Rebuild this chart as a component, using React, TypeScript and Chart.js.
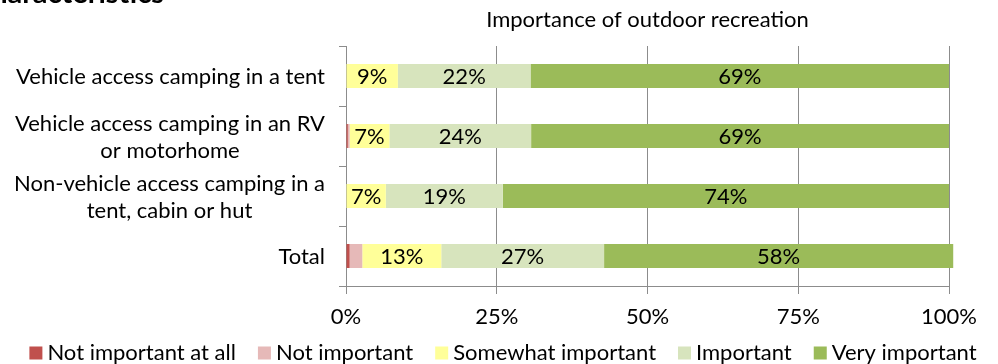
import React, { useEffect, useRef } from "react";
import { Chart, registerables } from "chart.js";

Chart.register(...registerables);

const categories: string[][] = [
  ["Vehicle access camping in a tent"],
  ["Vehicle access camping in an RV", "or motorhome"],
  ["Non-vehicle access camping in a", "tent, cabin or hut"],
  ["Total"],
];
const seriesNames = [
  "Not important at all",
  "Not important",
  "Somewhat important",
  "Important",
  "Very important",
];
const notImportantAtAll = [0, 0.3, 0, 0.6];
const notImportant = [0, 0.3, 0, 2.1];
const somewhatImportant = [8.6, 6.6, 6.6, 13.1];
const important = [22.0, 23.5, 19.4, 27.0];
const veryImportant = [69.4, 69.3, 74.0, 57.9];
const xTickValues = [0, 25, 50, 75, 100];
const chartTitle = "Importance of outdoor recreation";
const headingFragment = "Characteristics";

const seriesColors = ["#C0504D", "#E6B9B8", "#FFFF99", "#D7E4BD", "#9BBB59"];
const FONT = "Lato";
const FS = 22;
const GRID = "#8C8C8C";

export default function App() {
  const ref = useRef<HTMLCanvasElement | null>(null);

  useEffect(() => {
    document.body.style.margin = "0";
    const canvas = ref.current;
    if (!canvas) return;
    const seriesData = [notImportantAtAll, notImportant, somewhatImportant, important, veryImportant];

    const textPlugin = {
      id: "texts",
      afterDraw(chart: any) {
        const ctx = chart.ctx;
        const area = chart.chartArea;
        ctx.save();
        // cut-off heading
        ctx.fillStyle = "#000";
        ctx.font = `bold 29px ${FONT}`;
        ctx.textAlign = "right";
        ctx.textBaseline = "alphabetic";
        ctx.fillText(headingFragment, 164, 3);
        // chart title
        ctx.font = `${FS}px ${FONT}`;
        ctx.textAlign = "center";
        ctx.textBaseline = "middle";
        ctx.fillText(chartTitle, (area.left + area.right) / 2, 20);
        // category labels
        const y = chart.scales.y;
        const lineH = 27;
        const rightEdge = 325;
        categories.forEach((lines, i) => {
          const yc = y.getPixelForValue(i);
          let w = 0;
          lines.forEach((l) => (w = Math.max(w, ctx.measureText(l).width)));
          const cx = rightEdge - w / 2;
          lines.forEach((l, k) => {
            ctx.fillText(l, cx, yc + 1 + (k - (lines.length - 1) / 2) * lineH);
          });
        });
        // legend
        const box = 13;
        const gapText = 5;
        const gapItem = 22;
        const widths = seriesNames.map((n) => ctx.measureText(n).width);
        const total =
          widths.reduce((a, b) => a + b, 0) + seriesNames.length * (box + gapText) + (seriesNames.length - 1) * gapItem;
        let x = 503 - total / 2;
        const ly = 353;
        ctx.textAlign = "left";
        seriesNames.forEach((n, i) => {
          ctx.fillStyle = seriesColors[i];
          ctx.fillRect(x, ly - box / 2, box, box);
          x += box + gapText;
          ctx.fillStyle = "#000";
          ctx.fillText(n, x, ly);
          x += widths[i] + gapItem;
        });
        ctx.restore();
      },
      afterDatasetsDraw(chart: any) {
        const ctx = chart.ctx;
        ctx.save();
        ctx.font = `${FS}px ${FONT}`;
        ctx.fillStyle = "#000";
        ctx.textAlign = "center";
        ctx.textBaseline = "middle";
        chart.data.datasets.forEach((ds: any, i: number) => {
          const meta = chart.getDatasetMeta(i);
          meta.data.forEach((bar: any, j: number) => {
            const v = ds.data[j];
            if (v < 5) return;
            const p = bar.getProps(["x", "y", "base"], true);
            ctx.fillText(Math.round(v) + "%", (p.x + p.base) / 2, p.y + 1);
          });
        });
        ctx.restore();
      },
    };

    const chart = new Chart(canvas, {
      type: "bar",
      data: {
        labels: categories,
        datasets: seriesNames.map((name, i) => ({
          label: name,
          data: seriesData[i],
          backgroundColor: seriesColors[i],
          borderWidth: 0,
          barPercentage: 0.4,
          categoryPercentage: 1,
          clip: false as any,
        })),
      },
      options: {
        indexAxis: "y",
        responsive: false,
        animation: false,
        layout: { padding: { top: 46, right: 49, left: 0, bottom: 38 } },
        plugins: {
          title: { display: false },
          tooltip: { enabled: false },
          legend: { display: false },
        },
        scales: {
          x: {
            stacked: true,
            min: 0,
            max: 100,
            afterBuildTicks: (scale: any) => {
              scale.ticks = xTickValues.map((v) => ({ value: v }));
            },
            afterFit: (scale: any) => {
              scale.height = 40;
            },
            ticks: {
              callback: (v: any) => v + "%",
              font: { family: FONT, size: FS },
              color: "#000",
              padding: 10,
              maxRotation: 0,
            },
            grid: { color: GRID, tickLength: 8, lineWidth: 1 },
            border: { color: GRID, width: 1 },
          },
          y: {
            stacked: true,
            afterFit: (scale: any) => {
              scale.width = 346;
            },
            ticks: { display: false },
            grid: { drawOnChartArea: false, color: GRID, tickLength: 7, offset: true },
            border: { color: GRID, width: 1 },
          },
        },
      },
      plugins: [textPlugin],
    });
    return () => chart.destroy();
  }, []);

  return <canvas ref={ref} width={998} height={364} style={{ display: "block" }} />;
}
